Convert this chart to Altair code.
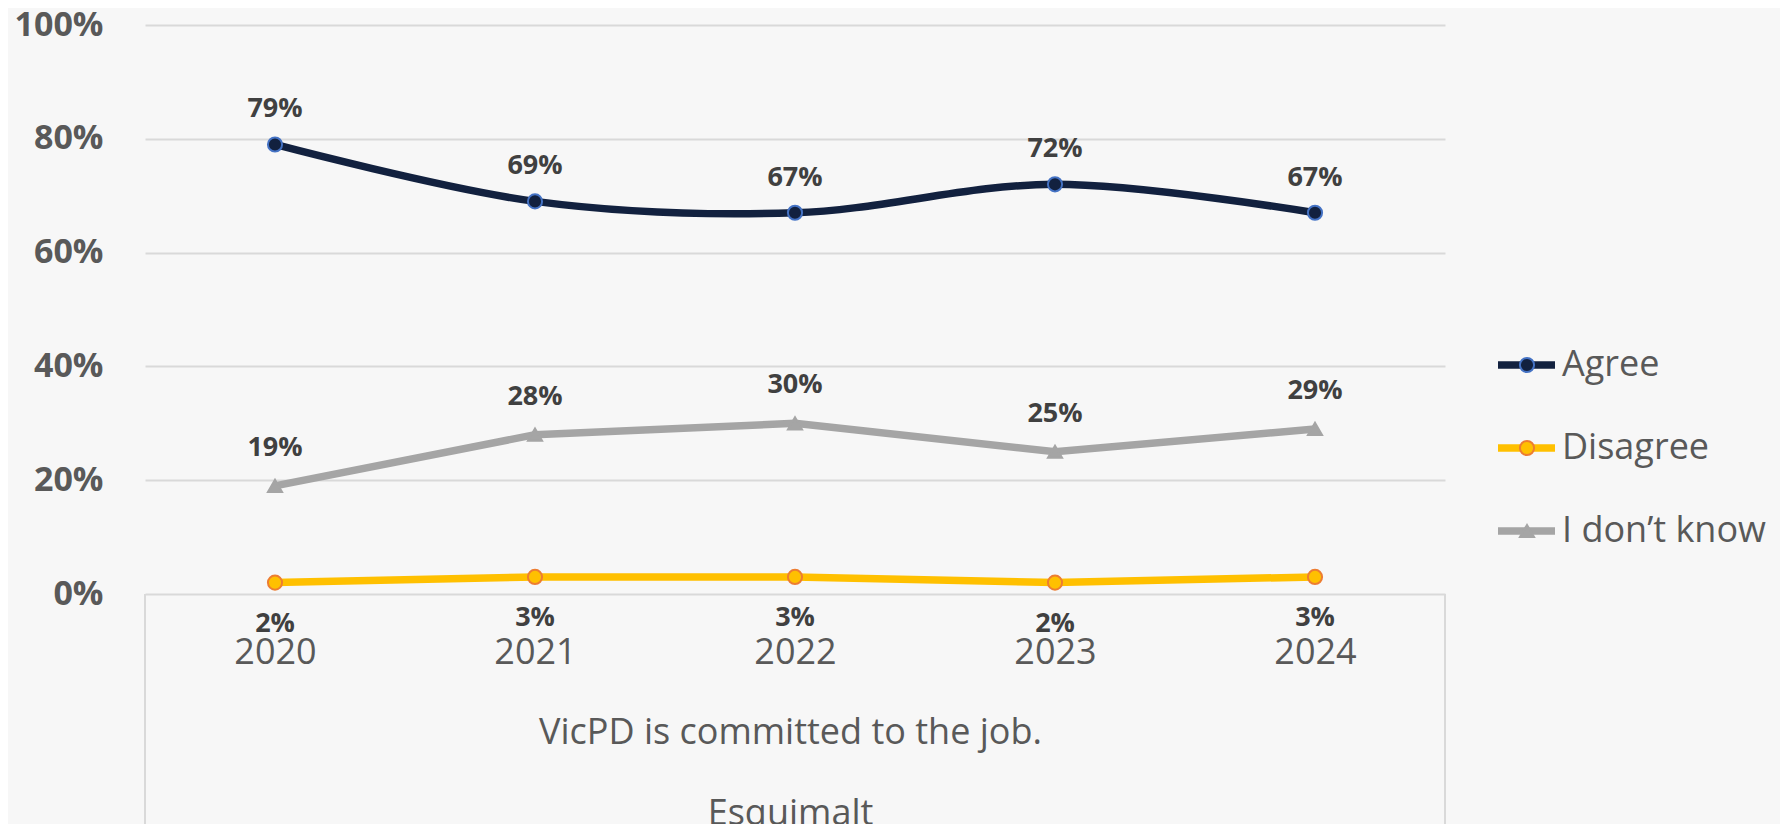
import altair as alt
import pandas as pd

years = ["2020", "2021", "2022", "2023", "2024"]
series = ["Agree", "Disagree", "I don’t know"]
agree = [79, 69, 67, 72, 67]
disagree = [2, 3, 3, 2, 3]
dont_know = [19, 28, 30, 25, 29]

line_colors = ["#12213F", "#FFC000", "#A5A5A5"]
point_fill = ["#12213F", "#FFC000", "#A5A5A5"]
point_stroke = ["#4472C4", "#ED7D31", "#A5A5A5"]
point_shapes = ["circle", "circle", "triangle-up"]
point_sizes = [200, 200, 529]

rows = []
for s, vals in zip(series, [agree, disagree, dont_know]):
    for yr, v in zip(years, vals):
        rows.append({"year": yr, "series": s, "series2": s, "value": v, "label": f"{v}%"})
df = pd.DataFrame(rows)

FONT = "Open Sans"
GRAY_TXT = "#595959"

x = alt.X(
    "year:O",
    scale=alt.Scale(type="point", padding=0.5),
    axis=alt.Axis(
        title=["VicPD is committed to the job.", "Esquimalt"],
        labelAngle=0,
        labelFontSize=36,
        labelColor=GRAY_TXT,
        labelBaseline="alphabetic",
        labelPadding=69,
        titleFontSize=36,
        titleColor=GRAY_TXT,
        titleFontWeight="normal",
        titleBaseline="alphabetic",
        titleX=645,
        titleY=149,
        titleLineHeight=81,
        grid=False,
        domain=False,
        ticks=False,
        tickSize=0,
    ),
)
y = alt.Y(
    "value:Q",
    scale=alt.Scale(domain=[0, 100]),
    axis=alt.Axis(
        title=None,
        values=[0, 20, 40, 60, 80, 100],
        labelExpr="datum.value + '%'",
        labelFontSize=34,
        labelFontWeight="bold",
        labelColor=GRAY_TXT,
        labelPadding=42,
        grid=True,
        gridColor="#D9D9D9",
        gridWidth=1.8,
        domain=False,
        ticks=False,
        tickSize=0,
    ),
)

line_legend = alt.Legend(
    title=None,
    orient="none",
    legendX=1349,
    legendY=322,
    symbolType="stroke",
    symbolSize=3249,
    symbolStrokeWidth=7.5,
    labelFontSize=36,
    labelFont=FONT,
    labelColor=GRAY_TXT,
    labelOffset=3,
    labelLimit=400,
    clipHeight=36,
    rowPadding=47,
    padding=0,
)
point_legend = alt.Legend(
    title=None,
    orient="none",
    legendX=1364,
    legendY=322,
    labelFontSize=36,
    labelFont=FONT,
    labelExpr="''",
    labelLimit=400,
    symbolStrokeWidth=2,
    symbolOpacity=1,
    clipHeight=36,
    rowPadding=47,
    padding=0,
    zindex=1,
)

color = alt.Color("series:N", scale=alt.Scale(domain=series, range=line_colors), legend=line_legend)

base = alt.Chart(df)

frame_data = pd.DataFrame({"k": [0]})
rule_left = alt.Chart(frame_data).mark_rule(color="#D9D9D9", strokeWidth=2).encode(
    x=alt.value(0), y=alt.value(569), y2=alt.value(800)
)
rule_right = alt.Chart(frame_data).mark_rule(color="#D9D9D9", strokeWidth=2).encode(
    x=alt.value(1300), y=alt.value(569), y2=alt.value(800)
)

agree_line = base.transform_filter(alt.datum.series == "Agree").mark_line(
    strokeWidth=7.5, interpolate="cardinal"
).encode(x=x, y=y, color=color)
other_lines = base.transform_filter(alt.datum.series != "Agree").mark_line(
    strokeWidth=7.5
).encode(x=x, y=y, color=color, detail="series:N")

points = base.mark_point(filled=True, strokeWidth=2, opacity=1).encode(
    x=x,
    y=y,
    fill=alt.Fill("series2:N", scale=alt.Scale(range=point_fill), legend=point_legend),
    stroke=alt.Stroke("series2:N", scale=alt.Scale(range=point_stroke), legend=point_legend),
    shape=alt.Shape("series2:N", scale=alt.Scale(range=point_shapes), legend=point_legend),
    size=alt.Size("series2:N", scale=alt.Scale(range=point_sizes), legend=point_legend),
)

def labels(name, dy):
    return base.transform_filter(alt.datum.series == name).mark_text(
        font=FONT, fontSize=27, fontWeight="bold", color="#404040",
        baseline="alphabetic", dy=dy
    ).encode(x=x, y=y, text="label:N")

chart = alt.layer(
    rule_left, rule_right, agree_line, other_lines, points,
    labels("Agree", -27), labels("Disagree", 49), labels("I don’t know", -30),
).properties(
    width=1300,
    height=569,
    autosize=alt.AutoSizeParams(type="none"),
    padding={"left": 137, "top": 17, "right": 335, "bottom": 230},
    background="#F7F7F7",
).configure_view(stroke=None).configure_axis(
    labelFont=FONT, titleFont=FONT
).configure_legend(labelFont=FONT)

chart.save("out.html", embed_options={"renderer": "svg", "actions": False})
